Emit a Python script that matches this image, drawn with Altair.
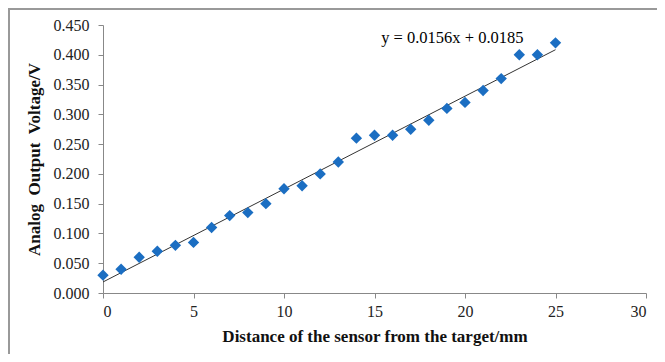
import altair as alt
import pandas as pd

distance = list(range(0, 26))
voltage = [0.030, 0.040, 0.060, 0.070, 0.080, 0.085, 0.110, 0.130, 0.135, 0.150,
           0.175, 0.180, 0.200, 0.220, 0.260, 0.265, 0.265, 0.275, 0.290, 0.310,
           0.320, 0.340, 0.360, 0.400, 0.400, 0.420]
y_ticks = [0.0, 0.05, 0.10, 0.15, 0.20, 0.25, 0.30, 0.35, 0.40, 0.45]
x_ticks = [0, 5, 10, 15, 20, 25, 30]
slope = 0.0156
intercept = 0.0185
trend_x = [0, 25]
eq_label = ["y = 0.0156x + 0.0185"]
eq_pos_x = [19.3]
eq_pos_y = [0.428]

df = pd.DataFrame({"x": distance, "y": voltage})
trend = pd.DataFrame({"x": trend_x, "y": [slope * v + intercept for v in trend_x]})
eq = pd.DataFrame({"x": eq_pos_x, "y": eq_pos_y, "t": eq_label})

FONT = "Liberation Serif"

xscale = alt.Scale(domain=[0, 30], nice=False)
yscale = alt.Scale(domain=[0, 0.45], nice=False)

xaxis = alt.Axis(title="Distance of the sensor from the target/mm", values=x_ticks,
                 grid=False, tickSize=5, labelPadding=5, titlePadding=9, labelOverlap=False,
                 titleFontSize=17)
yaxis = alt.Axis(title="Analog\u00a0\u00a0Output\u00a0\u00a0Voltage/V", values=y_ticks, format=".3f",
                 grid=False, tickSize=5, labelPadding=9, titlePadding=10, labelOverlap=False,
                 titleFontSize=17)

points = alt.Chart(df).mark_point(shape="diamond", filled=True, size=130, color="#1B6EC2", opacity=1).encode(
    x=alt.X("x:Q", scale=xscale, axis=xaxis),
    y=alt.Y("y:Q", scale=yscale, axis=yaxis),
)

line = alt.Chart(trend).mark_line(color="#333333", strokeWidth=1).encode(
    x=alt.X("x:Q", scale=xscale, axis=xaxis),
    y=alt.Y("y:Q", scale=yscale, axis=yaxis),
)

text = alt.Chart(eq).mark_text(font=FONT, fontSize=16.5, color="black", align="center", baseline="middle").encode(
    x=alt.X("x:Q", scale=xscale, axis=xaxis),
    y=alt.Y("y:Q", scale=yscale, axis=yaxis),
    text="t:N",
)

frame_top = alt.Chart(eq).mark_rule(color="#999999", strokeWidth=2).encode(
    x=alt.value(-95), x2=alt.value(560), y=alt.value(-16)
)
frame_left = alt.Chart(eq).mark_rule(color="#999999", strokeWidth=2).encode(
    x=alt.value(-94), y=alt.value(-16), y2=alt.value(340)
)

chart = alt.layer(frame_top, frame_left, line, points, text).properties(
    width=543, height=268,
    autosize=alt.AutoSizeParams(type="none"),
    padding={"left": 95, "top": 17, "right": 11, "bottom": 61},
).configure_view(stroke=None).configure_axis(
    domainColor="#888888", tickColor="#888888", labelFont=FONT, labelFontSize=16,
    labelColor="#222222", titleFont=FONT, titleFontWeight="bold", titleColor="#111111",
    labelOverlap=False,
)

chart.save("out.html", embed_options={"renderer": "svg", "actions": False})
